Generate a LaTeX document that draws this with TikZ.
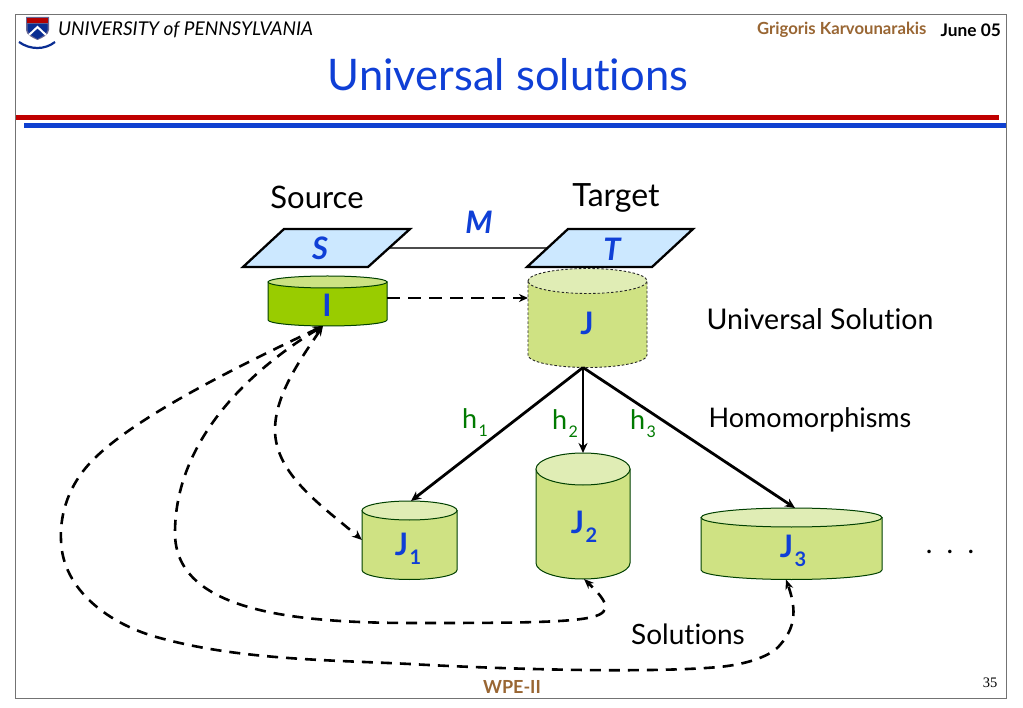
\documentclass[tikz,border=0pt]{standalone}
\usepackage{fontspec}
\setmainfont{Lato}[Ligatures=NoCommon]
\newfontfamily\pagefont{Liberation Serif}
\usetikzlibrary{arrows.meta}
\definecolor{titleblue}{HTML}{0F3FD6}
\definecolor{barred}{HTML}{C00000}
\definecolor{barblue}{HTML}{0F40D0}
\definecolor{brownish}{HTML}{996633}
\definecolor{planeblue}{HTML}{CCE8FF}
\definecolor{cylbody}{HTML}{CFE283}
\definecolor{cyltop}{HTML}{E0EDB5}
\definecolor{ibody}{HTML}{99CC00}
\definecolor{itop}{HTML}{CCE283}
\definecolor{hgreen}{HTML}{007A00}
\newcommand{\subx}[3]{#1\hspace{0.05em}\raisebox{-0.3em}{\fontsize{#3}{#3}\selectfont #2}}
% name, x1, x2, ytop-centre, ybottom-centre, ry, line style, body fill, top fill
\newcommand{\cyl}[9]{%
  \path[#7,fill=#8] (#2,#4) -- (#2,#5) arc[start angle=180,end angle=360,x radius={(#3-#2)/2*1pt},y radius=#6pt] -- (#3,#4) -- cycle;
  \path[#7,fill=#9] (#2,#4) arc[start angle=180,end angle=-180,x radius={(#3-#2)/2*1pt},y radius=#6pt];
  \node[cylbox,minimum width={(#3-#2)*1pt},minimum height={(#5-#4+2*#6)*1pt}] (#1) at ({(#2+#3)/2},{(#4+#5)/2}) {};
}
\tikzset{
  cylbox/.style={inner sep=0pt,outer sep=0pt,draw=none},
  cylline/.style={draw=black!75!green,line width=1pt},
  cyldash/.style={draw=black!85,dash pattern=on 2.5pt off 2pt,line width=0.9pt},
  planebox/.style={inner sep=0pt,outer sep=0pt,minimum width=126pt,minimum height=38pt},
  plane/.style={draw=black,fill=planeblue,line width=2.3pt,line join=miter},
  bluelab/.style={inner sep=0pt,text=titleblue,font=\fontsize{31}{31}\selectfont\bfseries},
  blacklab/.style={inner sep=0pt,text=black,font=\fontsize{28}{28}\selectfont},
  hlab/.style={inner sep=0pt,text=hgreen,font=\fontsize{27}{27}\selectfont},
  solidarrow/.style={draw=black,line width=2.8pt,-{Stealth[length=10pt,width=9pt]}},
  dasharrow/.style={draw=black,line width=2.6pt,dash pattern=on 11pt off 8pt,{Stealth[length=10pt,width=8pt]}-{Stealth[length=10pt,width=8pt]}},
  singledash/.style={draw=black,line width=2.8pt,dash pattern=on 13pt off 8pt,-{Stealth[length=9pt,width=8pt]}},
}
\begin{document}
\begin{tikzpicture}[x=1pt,y=-1pt]
\useasboundingbox (0,0) rectangle (1023,708);
\fill[white] (0,0) rectangle (1023,708);
% frame and bars
\draw[draw=black!55,line width=1pt] (15.5,14.5) rectangle (1006,698);
\fill[barred] (16,115.5) rectangle (999,120.5);
\fill[barblue] (24,123.5) rectangle (1006,128.5);
% crest
\fill[blue!30!black!60!white] (26,17) -- (49,17) -- (49,30) .. controls (49,35) and (42,38) .. (37.5,40) .. controls (33,38) and (26,35) .. (26,30) -- cycle;
\fill[red!70!black] (27,18) rectangle (48,23);
\fill[barblue!70!black] (27.5,24) -- (47.5,24) -- (47.5,30) .. controls (47,34) and (41,37) .. (37.5,39) .. controls (34,37) and (28,34) .. (27.5,30) -- cycle;
\draw[white,line width=2pt] (29,35) -- (37.5,27) -- (46,35);
\draw[barblue!70!black,line width=2.2pt] (19,42) .. controls (30,50) and (45,50) .. (55,42);
% header
\node[inner sep=0pt,anchor=west,font=\fontsize{19}{19}\selectfont\itshape] (uni) at (58,30) {UNIVERSITY of PENNSYLVANIA};
\node[inner sep=0pt,anchor=west,text=brownish,font=\fontsize{16.7}{16.7}\selectfont\bfseries] (author) at (757,30) {Grigoris Karvounarakis};
\node[inner sep=0pt,anchor=east,font=\fontsize{17.3}{17.3}\selectfont\bfseries] (date) at (1001,30) {June 05};
\node[inner sep=0pt,text=titleblue,font=\fontsize{43.5}{43.5}\selectfont] (title) at (508,75) {Universal solutions};
% link between schemas
\node[planebox] (S) at (326.5,248) {};
\node[planebox] (T) at (610,248) {};
\draw[draw=black!70,line width=1.1pt] (S.east) -- (T.west);
\draw[plane] (284,229) -- (410,229) -- (368,267) -- (243,267) -- cycle;
\draw[plane] (568,229) -- (693,229) -- (652,267) -- (527,267) -- cycle;
\node[bluelab] (Slab) at (320,248) {\itshape S};
\node[bluelab] (Tlab) at (612,249) {\itshape T};
\node[bluelab] (Mlab) at (479,222) {\itshape M};
\node[blacklab,font=\fontsize{31}{31}\selectfont] (src) at (317,197) {Source};
\node[blacklab,font=\fontsize{32}{32}\selectfont] (tgt) at (616,198) {Target};
% databases
\cyl{I}{268}{387}{282}{320}{6}{cylline}{ibody}{itop}
\cyl{J}{528}{647}{281}{355}{12.5}{cyldash}{cylbody}{cyltop}
\cyl{Jone}{362}{457}{510.5}{570}{9.5}{cylline}{cylbody}{cyltop}
\cyl{Jtwo}{536}{630}{469}{563}{16}{cylline}{cylbody}{cyltop}
\cyl{Jthree}{701}{882}{517.5}{570}{9.5}{cylline}{cylbody}{cyltop}
\node[bluelab] (Ilab) at (327,305) {I};
\node[bluelab] (Jlab) at (587,323) {J};
\node[bluelab] (Jonelab) at (408,549) {\subx{J}{1}{20}};
\node[bluelab] (Jtwolab) at (584,527) {\subx{J}{2}{20}};
\node[bluelab] (Jthreelab) at (793,551) {\subx{J}{3}{20}};
% solid and single dashed arrows
\draw[singledash] (I.east |- 0,298) -- (J.west |- 0,298);
\draw[solidarrow] ([xshift=-4.5pt]J.south) -- ([xshift=1.5pt]Jone.north);
\draw[solidarrow] ([xshift=-4.5pt]J.south) -- (Jtwo.north);
\draw[solidarrow] ([xshift=-4.5pt]J.south) -- ([xshift=3.5pt]Jthree.north);
% double-headed dashed curves
\draw[dasharrow] ([xshift=-4.5pt]I.south) .. controls (300,360) and (275,395) .. (275,430) .. controls (275,475) and (325,508) .. (Jone.west |- 0,540);
\draw[dasharrow] ([xshift=-4.5pt]I.south) .. controls (250,370) and (175,440) .. (175,533) .. controls (175,610) and (290,623) .. (413,623) .. controls (500,623) and (570,623) .. (592,617) .. controls (614,612) and (606,600) .. ([xshift=1pt]Jtwo.south);
\draw[dasharrow] ([xshift=-4.5pt]I.south) .. controls (230,370) and (130,420) .. (90,463) .. controls (65,490) and (60,520) .. (61,540) .. controls (62,590) and (110,625) .. (160,638) .. controls (240,660) and (330,660) .. (410,664) .. controls (480,668) and (640,674) .. (719,667) .. controls (750,664) and (772,655) .. (780,645) .. controls (798,625) and (795,605) .. ([xshift=-5.5pt]Jthree.south);
% labels
\node[hlab] (h1) at (475,423) {\subx{h}{1}{16}};
\node[hlab] (h2) at (565,424) {\subx{h}{2}{16}};
\node[hlab] (h3) at (643,424) {\subx{h}{3}{16}};
\node[blacklab,font=\fontsize{28.5}{28.5}\selectfont] (us) at (820,319) {Universal Solution};
\node[blacklab,font=\fontsize{27}{27}\selectfont] (hom) at (810,420) {Homomorphisms};
\node[blacklab] (sol) at (688,634) {Solutions};
\node[blacklab] (dots) at (950,552) {.\ \ .\ \ .};
\node[inner sep=0pt,text=brownish,font=\fontsize{18}{18}\selectfont\bfseries] (wpe) at (512,687) {WPE-II};
\node[inner sep=0pt,font=\fontsize{14.5}{14.5}\selectfont\pagefont] (page) at (990,683) {35};
\end{tikzpicture}
\end{document}
